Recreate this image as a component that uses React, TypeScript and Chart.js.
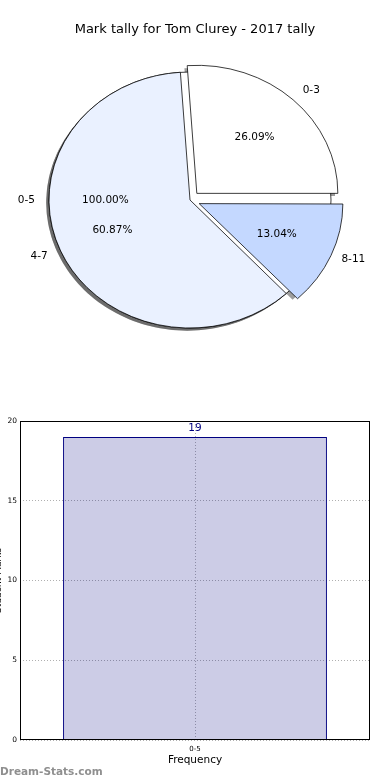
import React, { useEffect, useRef } from "react";
import { Chart, registerables } from "chart.js";

Chart.register(...registerables);
Chart.defaults.font.family = "'DejaVu Sans', sans-serif";

// ---- data ----
const pieTitle = "Mark tally for Tom Clurey - 2017 tally";
const pieCategories = ["0-3", "4-7", "8-11"];
const pieValues = [6, 14, 3];
const overlayCategories = ["0-5"];
const overlayValues = [19];

const barCategories = ["0-5"];
const barValues = [19];
const yTickValues = [0, 5, 10, 15, 20];
const xAxisTitle = "Frequency";
const yAxisTitle = "Student Marks";
const watermark = "Dream-Stats.com";

// ---- styles ----
const pieColors = ["#ffffff", "#eaf1ff", "#c4d8ff"];
const overlayColors = ["#ffffff"];
const pieOffsets = [40, 0, 40]; // chart.js draws offset / 4 px
const ELLIPSE_Y = 0.908;
const PIE_RADIUS = 141;
const SHADOW_DX = -2.8;
const SHADOW_DY = 2.6;
const SHADOW_FILL = "rgba(60,60,60,0.5)";

function PieChart() {
  const ref = useRef<HTMLCanvasElement | null>(null);
  useEffect(() => {
    const canvas = ref.current!;
    const labels = [...pieCategories].reverse();
    const values = [...pieValues].reverse();
    const colors = [...pieColors].reverse();
    const offsets = [...pieOffsets].reverse();
    const total = pieValues.reduce((a, b) => a + b, 0);
    const oTotal = overlayValues.reduce((a, b) => a + b, 0);

    const applyEllipse = (chart: any) => {
      const ca = chart.chartArea;
      const cx = (ca.left + ca.right) / 2;
      const cy = (ca.top + ca.bottom) / 2;
      const ctx = chart.ctx;
      ctx.translate(cx, cy);
      ctx.scale(1, ELLIPSE_Y);
      ctx.translate(-cx, -cy);
    };

    // overlay wedges: counter-clockwise from 3 o'clock (screen angles)
    const overlayWedges = (cx: number, cy: number, R: number) => {
      let cum = 0;
      return overlayValues.map((v, i) => {
        const frac = v / oTotal;
        const start = -cum * Math.PI * 2;
        const end = -(cum + frac) * Math.PI * 2;
        cum += frac;
        return { cx, cy, R, start, end, frac, full: frac >= 0.9999, label: overlayCategories[i], color: overlayColors[i % overlayColors.length] };
      });
    };

    const wedgePath = (ctx: any, x: number, y: number, R: number, a0: number, a1: number, full: boolean, ccw: boolean) => {
      ctx.beginPath();
      if (full) {
        ctx.arc(x, y, R, 0, Math.PI * 2);
      } else {
        ctx.moveTo(x, y);
        ctx.arc(x, y, R, a0, a1, ccw);
        ctx.closePath();
      }
    };

    const ellipsePlugin = {
      id: "ellipse",
      beforeDatasetsDraw(chart: any) {
        const ctx = chart.ctx;
        const meta = chart.getDatasetMeta(0);
        const first: any = meta.data[0];
        const cx = first.x, cy = first.y, R = first.outerRadius;
        const ow = overlayWedges(cx, cy, R);
        // shadows beneath everything
        ctx.save();
        ctx.translate(SHADOW_DX, SHADOW_DY);
        applyEllipse(chart);
        ctx.fillStyle = SHADOW_FILL;
        ow.forEach((w) => {
          wedgePath(ctx, w.cx, w.cy, w.R, w.start, w.end, w.full, true);
          ctx.fill();
        });
        meta.data.forEach((el: any) => {
          const a = (el.startAngle + el.endAngle) / 2;
          const off = (el.options.offset || 0) / 4;
          const x = el.x + Math.cos(a) * off;
          const y = el.y + Math.sin(a) * off;
          wedgePath(ctx, x, y, el.outerRadius, el.startAngle, el.endAngle, false, false);
          ctx.fill();
        });
        ctx.restore();
        // overlay pie (single full wedge) under the main pie
        ctx.save();
        applyEllipse(chart);
        ow.forEach((w) => {
          wedgePath(ctx, w.cx, w.cy, w.R, w.start, w.end, w.full, true);
          ctx.fillStyle = w.color;
          ctx.fill();
          ctx.lineWidth = 0.8;
          ctx.strokeStyle = "#000";
          ctx.stroke();
        });
        ctx.restore();
        ctx.save();
        applyEllipse(chart);
      },
      afterDatasetsDraw(chart: any) {
        chart.ctx.restore();
      },
    };

    const labelPlugin = {
      id: "pieLabels",
      afterDraw(chart: any) {
        const ctx = chart.ctx;
        ctx.save();
        ctx.fillStyle = "#000";
        ctx.font = "13px 'DejaVu Sans'";
        ctx.textAlign = "center";
        ctx.textBaseline = "middle";
        ctx.fillText(pieTitle, chart.width / 2, 30);

        ctx.font = "10.5px 'DejaVu Sans'";
        const meta = chart.getDatasetMeta(0);
        const first: any = meta.data[0];
        const cx = first.x, cy = first.y, R = first.outerRadius;
        // overlay labels first
        overlayWedges(cx, cy, R).forEach((w) => {
          const a = (w.start + w.end) / 2;
          const c = Math.cos(a), s = Math.sin(a);
          ctx.textAlign = c > 0 ? "left" : "right";
          ctx.fillText(w.label, cx + c * R * 1.1, cy + s * R * 1.1 * ELLIPSE_Y);
          ctx.textAlign = "center";
          ctx.fillText((w.frac * 100).toFixed(2) + "%", cx + c * R * 0.6, cy + s * R * 0.6 * ELLIPSE_Y);
        });
        meta.data.forEach((el: any, i: number) => {
          const a = (el.startAngle + el.endAngle) / 2;
          const off = (el.options.offset || 0) / 4;
          const c = Math.cos(a), s = Math.sin(a);
          const r = el.outerRadius;
          ctx.textAlign = c > 0 ? "left" : "right";
          ctx.fillText(labels[i], el.x + c * (off + r * 1.1), el.y + s * (off + r * 1.1) * ELLIPSE_Y);
          ctx.textAlign = "center";
          ctx.fillText(((values[i] / total) * 100).toFixed(2) + "%", el.x + c * (off + r * 0.6), el.y + s * (off + r * 0.6) * ELLIPSE_Y);
        });
        ctx.restore();
      },
    };

    const chart = new Chart(canvas, {
      type: "pie",
      data: {
        labels,
        datasets: [
          {
            data: values,
            backgroundColor: colors,
            borderColor: "#000",
            borderWidth: 0.8,
            offset: offsets,
            radius: PIE_RADIUS,
          } as any,
        ],
      },
      options: {
        animation: false,
        responsive: false,
        rotation: 90,
        layout: { padding: { left: 0, right: 10, top: 0, bottom: 0 } },
        plugins: { legend: { display: false }, tooltip: { enabled: false }, title: { display: false } },
      },
      plugins: [ellipsePlugin, labelPlugin],
    });
    return () => chart.destroy();
  }, []);
  return <canvas ref={ref} width={390} height={400} style={{ position: "absolute", left: 0, top: 0 }} />;
}

function BarChart() {
  const ref = useRef<HTMLCanvasElement | null>(null);
  useEffect(() => {
    const canvas = ref.current!;
    const framePlugin = {
      id: "frame",
      afterDatasetsDraw(chart: any) {
        const ctx = chart.ctx;
        const ca = chart.chartArea;
        ctx.save();
        const meta = chart.getDatasetMeta(0);
        ctx.fillStyle = "#000080";
        ctx.font = "10.5px 'DejaVu Sans'";
        ctx.textAlign = "center";
        ctx.textBaseline = "bottom";
        meta.data.forEach((el: any, i: number) => {
          ctx.fillText(String(barValues[i]), el.x, el.y - 3);
        });
        ctx.strokeStyle = "#000";
        ctx.lineWidth = 1;
        ctx.strokeRect(ca.left + 0.5, ca.top + 0.5, ca.width - 1, ca.height - 1);
        ctx.restore();
      },
    };
    const chart = new Chart(canvas, {
      type: "bar",
      data: {
        labels: barCategories,
        datasets: [
          {
            data: barValues,
            backgroundColor: "rgba(0,0,128,0.2)",
            borderColor: "#000080",
            borderWidth: 1,
            barPercentage: 0.754,
            categoryPercentage: 1,
          },
        ],
      },
      options: {
        animation: false,
        responsive: false,
        layout: { padding: { left: 0, right: 20, top: 21, bottom: 0 } },
        plugins: { legend: { display: false }, tooltip: { enabled: false } },
        scales: {
          x: {
            grid: { offset: false, color: "#b0b0b0", drawTicks: false },
            border: { display: false, dash: [1, 2] },
            ticks: { color: "#000", font: { size: 7 }, padding: 5 },
            title: { display: true, text: xAxisTitle, color: "#000", font: { size: 10.5 }, padding: { top: 0, bottom: 13.5 } },
            afterFit: (s: any) => { s.height = 40; },
          },
          y: {
            min: yTickValues[0],
            max: yTickValues[yTickValues.length - 1],
            afterBuildTicks: (s: any) => { s.ticks = yTickValues.map((v) => ({ value: v })); },
            grid: { color: "#b0b0b0", drawTicks: false },
            border: { display: false, dash: [1, 2] },
            ticks: { color: "#000", font: { size: 7.5 }, padding: 3 },
            title: { display: true, text: yAxisTitle, color: "#000", font: { size: 9 }, padding: { top: -7, bottom: 0 } },
            afterFit: (s: any) => { s.width = 20; },
          },
        },
      },
      plugins: [framePlugin],
    });
    return () => chart.destroy();
  }, []);
  return <canvas ref={ref} width={390} height={380} style={{ position: "absolute", left: 0, top: 400 }} />;
}

export default function App() {
  return (
    <div style={{ position: "fixed", left: 0, top: 0, width: 390, height: 780, background: "#fff", overflow: "hidden" }}>
      <PieChart />
      <BarChart />
      <div
        style={{
          position: "absolute",
          left: 0,
          top: 764,
          font: "bold 10.5px 'DejaVu Sans', sans-serif",
          color: "#8f8f8f",
          lineHeight: "14px",
        }}
      >
        {watermark}
      </div>
    </div>
  );
}
